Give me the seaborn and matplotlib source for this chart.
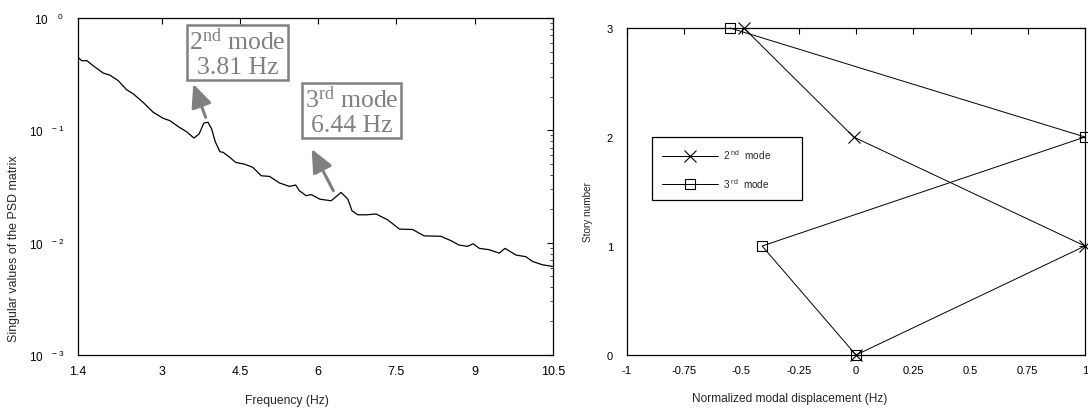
import numpy as np
import pandas as pd
import matplotlib
matplotlib.use("Agg")
import matplotlib.pyplot as plt
import seaborn as sns

# ---------------- data ----------------
freq = [1.40, 1.47, 1.57, 1.69, 1.88, 2.01, 2.17, 2.33, 2.46, 2.65, 2.84, 3.03,
        3.16, 3.32, 3.48, 3.62, 3.72, 3.81, 3.89, 3.96, 4.03, 4.12, 4.18, 4.31,
        4.42, 4.59, 4.75, 4.91, 5.07, 5.26, 5.45, 5.57, 5.64, 5.77, 5.87, 6.03,
        6.25, 6.44, 6.57, 6.65, 6.76, 6.92, 7.11, 7.33, 7.56, 7.81, 8.03, 8.35,
        8.55, 8.70, 8.86, 8.97, 9.09, 9.28, 9.47, 9.58, 9.79, 9.98, 10.11, 10.30,
        10.49]
sv = [0.447, 0.417, 0.417, 0.376, 0.324, 0.310, 0.277, 0.230, 0.211, 0.177,
      0.145, 0.128, 0.122, 0.108, 0.0972, 0.0854, 0.0927, 0.116, 0.118, 0.103,
      0.079, 0.0645, 0.0637, 0.0574, 0.0518, 0.0500, 0.0468, 0.0394, 0.0389,
      0.0340, 0.0317, 0.0326, 0.0290, 0.0262, 0.0268, 0.0244, 0.0236, 0.0280,
      0.0244, 0.0192, 0.0177, 0.0177, 0.0180, 0.0160, 0.0132, 0.0131, 0.0115,
      0.0114, 0.0104, 0.00952, 0.00927, 0.00977, 0.00890, 0.00865, 0.00807,
      0.00890, 0.00776, 0.00750, 0.00680, 0.00635, 0.00615]

story = [0, 1, 2, 3]
mode2_disp = [0.0, 1.0, -0.01, -0.49]
mode3_disp = [0.0, -0.41, 1.0, -0.55]

freq_ticks = [1.4, 3, 4.5, 6, 7.5, 9, 10.5]
freq_ticklabels = ["1.4", "3", "4.5", "6", "7.5", "9", "10.5"]
sv_ticks = [1e-3, 1e-2, 1e-1, 1e0]
sv_ticklabels = [r"$\mathregular{10^{\ \ \ -3}}$", r"$\mathregular{10^{\ \ \ -2}}$",
                 r"$\mathregular{10^{\ \ \ -1}}$", r"$\mathregular{10^{\ \ \ \ 0}}$"]
disp_ticks = [-1, -0.75, -0.5, -0.25, 0, 0.25, 0.5, 0.75, 1]
disp_ticklabels = ["-1", "-0.75", "-0.5", "-0.25", "0", "0.25", "0.5", "0.75", "1"]
story_ticks = [0, 1, 2, 3]

peak_labels = [r"$\mathregular{2^{nd}}$ mode" + "\n3.81 Hz",
               r"$\mathregular{3^{rd}}$ mode" + "\n6.44 Hz"]
legend_labels = [r"$\mathregular{2^{\ nd}}$  mode", r"$\mathregular{3^{\ rd}}$  mode"]

# ---------------- style ----------------
sns.set_style("white")
plt.rcParams["font.family"] = ["Liberation Sans", "DejaVu Sans"]
plt.rcParams["mathtext.fontset"] = "custom"
plt.rcParams["mathtext.rm"] = "Liberation Sans"
plt.rcParams["axes.edgecolor"] = "black"
plt.rcParams["axes.linewidth"] = 0.9

fig = plt.figure(figsize=(10.88, 4.14), dpi=100)
W, H = 1088, 414
ax1 = fig.add_axes([78 / W, (H - 356) / H, 475 / W, 337 / H])
ax2 = fig.add_axes([627 / W, (H - 356) / H, 458 / W, 327 / H])

# ---------------- left panel ----------------
df1 = pd.DataFrame({"f": freq, "s": sv})
sns.lineplot(data=df1, x="f", y="s", ax=ax1, color="black", lw=0.9,
             estimator=None, sort=False)
ax1.set_yscale("log")
ax1.set_xlim(1.4, 10.5)
ax1.set_ylim(1e-3, 1e0)
ax1.set_xticks(freq_ticks)
ax1.set_xticklabels(freq_ticklabels, fontsize=9)
ax1.set_yticks(sv_ticks)
ax1.set_yticklabels(sv_ticklabels, fontsize=8.5)
ax1.yaxis.set_minor_locator(matplotlib.ticker.LogLocator(base=10, subs=np.arange(2, 10)))
ax1.yaxis.set_minor_formatter(matplotlib.ticker.NullFormatter())
ax1.tick_params(axis="both", which="major", direction="in", length=4, width=0.8,
                top=True, right=True, colors="black")
ax1.tick_params(axis="both", which="minor", direction="in", length=2.5, width=0.6,
                top=True, right=True)
ax1.tick_params(axis="x", which="major", pad=7.5)
ax1.tick_params(axis="y", which="major", pad=10)
ax1.set_xlabel("Frequency (Hz)", fontsize=8.7)
ax1.set_ylabel("Singular values of the PSD matrix", fontsize=8.9)
ax1.xaxis.set_label_coords(0.439, -0.116)
ax1.yaxis.set_label_coords(-0.122, 0.317)
for s in ax1.spines.values():
    s.set_visible(True)

grey = "#808080"
box_pos = [(0.336, 0.897), (0.576, 0.7255)]
arrow_tail = [(0.2688, 0.7053), (0.5375, 0.4875)]
arrow_head = [(0.2427, 0.8042), (0.492, 0.6113)]
for lab, bp in zip(peak_labels, box_pos):
    ax1.text(bp[0], bp[1], lab, transform=ax1.transAxes, ha="center", va="center",
             fontsize=18.5, family="Liberation Serif", color=grey, linespacing=1.1,
             multialignment="center",
             bbox=dict(boxstyle="square,pad=0.1", fc="white", ec=grey, lw=1.8))
for t, h in zip(arrow_tail, arrow_head):
    ax1.annotate("", xy=h, xytext=t, xycoords="axes fraction", textcoords="axes fraction",
                 arrowprops=dict(arrowstyle="-|>,head_width=0.45,head_length=1.0",
                                 color=grey, lw=2.2, shrinkA=0, shrinkB=0,
                                 mutation_scale=14))

# ---------------- right panel ----------------
df2 = pd.DataFrame({"d": mode2_disp, "st": story})
df3 = pd.DataFrame({"d": mode3_disp, "st": story})
sns.lineplot(data=df2, x="d", y="st", ax=ax2, color="black", lw=0.7, sort=False,
             estimator=None, marker="x", markersize=9, markeredgewidth=0.8,
             markeredgecolor="black", label=legend_labels[0], clip_on=False)
sns.lineplot(data=df3, x="d", y="st", ax=ax2, color="black", lw=0.7, sort=False,
             estimator=None, marker="s", markersize=6.5, markeredgewidth=0.8,
             markerfacecolor="none", markeredgecolor="black", label=legend_labels[1],
             clip_on=False)
ax2.set_xlim(-1, 1)
ax2.set_ylim(0, 3)
ax2.set_xticks(disp_ticks)
ax2.set_xticklabels(disp_ticklabels, fontsize=8)
ax2.set_yticks(story_ticks)
ax2.set_yticklabels([str(v) for v in story_ticks], fontsize=8)
ax2.tick_params(axis="both", which="major", direction="in", length=4, width=0.8,
                top=True, right=True, colors="black")
ax2.tick_params(axis="x", which="major", pad=7)
ax2.tick_params(axis="y", which="major", pad=10)
ax2.set_xlabel("Normalized modal displacement (Hz)", fontsize=8.6)
ax2.set_ylabel("Story number", fontsize=7.2)
ax2.xaxis.set_label_coords(0.356, -0.113)
ax2.yaxis.set_label_coords(-0.074, 0.439)
for s in ax2.spines.values():
    s.set_visible(True)

lx0 = (651.7 - 627) / 458
ly1 = (356 - 138.3) / 327
lw_ = (801.7 - 651.7) / 458
lh_ = (199.3 - 138.3) / 327
leg = ax2.legend(loc="upper left", bbox_to_anchor=(lx0, ly1 - lh_, lw_, lh_),
                 mode="expand", borderaxespad=0, fontsize=7.2, handlelength=5.6,
                 handletextpad=0.55, labelspacing=1.5, borderpad=1.0,
                 frameon=True, fancybox=False, framealpha=1, edgecolor="black")
leg.get_frame().set_linewidth(0.9)

fig.savefig("out.png", dpi=100)
